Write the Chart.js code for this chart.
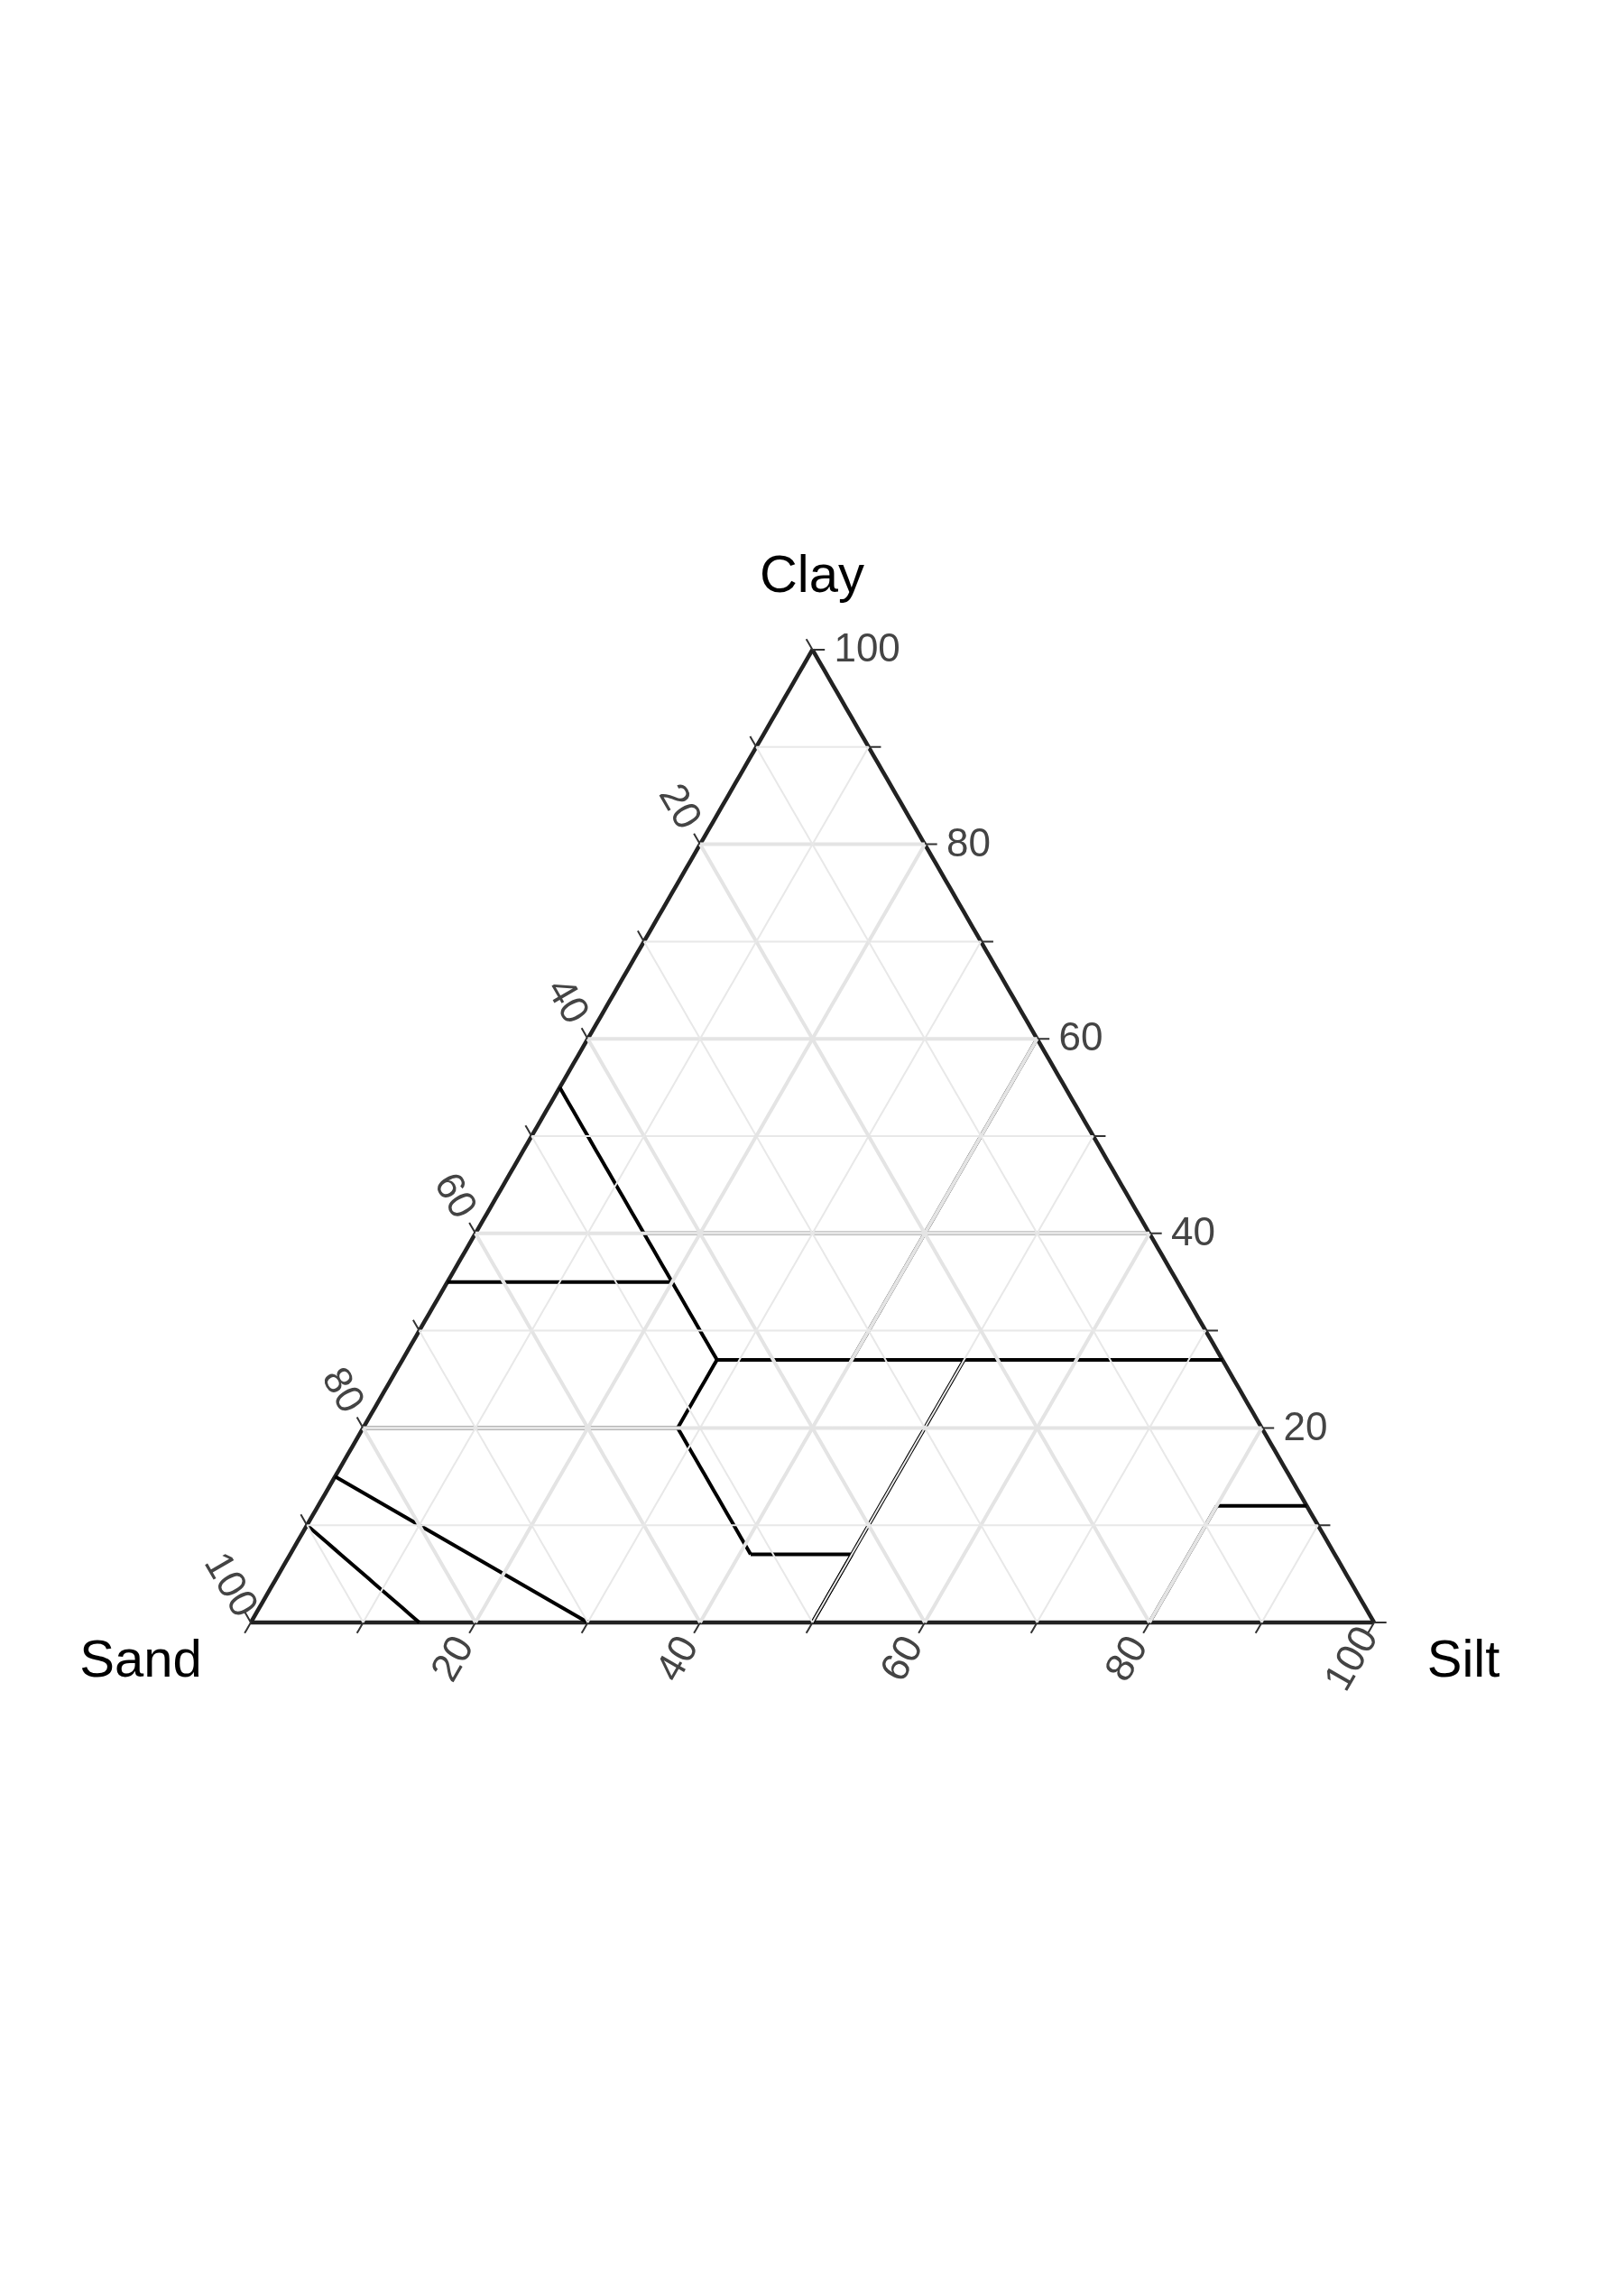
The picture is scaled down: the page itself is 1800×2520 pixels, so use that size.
<!DOCTYPE html>
<html>
<head>
<meta charset="utf-8">
<script src="https://cdn.jsdelivr.net/npm/chart.js@4.4.1/dist/chart.umd.min.js"></script>
<style>
  html, body { margin: 0; padding: 0; background: #fff; }
  canvas { display: block; }
</style>
</head>
<body>
<canvas id="tern" width="1800" height="2520"></canvas>
<script>
// === Data (sand, silt, clay in %) ===
const axisTitles = ['Sand', 'Silt', 'Clay'];
const tickLabels = [20, 40, 60, 80, 100];
const gridSteps = [10, 20, 30, 40, 50, 60, 70, 80, 90];

// USDA texture class boundaries, each segment as [sand, silt, clay] pairs
const boundaries = [
  [[45, 0, 55], [45, 15, 40]],   // clay / sandy clay
  [[45, 15, 40], [45, 28, 27]],  // sand 45 down to clay 27
  [[45, 15, 40], [0, 60, 40]],   // clay = 40
  [[65, 0, 35], [45, 20, 35]],   // sandy clay top
  [[0, 40, 60], [20, 40, 40]],   // silty clay / clay
  [[20, 40, 40], [33, 40, 27]],  // silty clay loam / clay loam
  [[45, 28, 27], [0, 73, 27]],   // clay = 27
  [[80, 0, 20], [52, 28, 20]],   // clay = 20
  [[52, 28, 20], [45, 28, 27]],  // silt = 28
  [[52, 28, 20], [52, 41, 7]],   // sand = 52
  [[52, 41, 7], [43, 50, 7]],    // clay = 7
  [[43, 50, 7], [50, 50, 0]],    // silt = 50 lower part
  [[23, 50, 27], [50, 50, 0]],   // silt loam / loam
  [[8, 80, 12], [0, 88, 12]],    // silt top
  [[8, 80, 12], [20, 80, 0]],    // silt left
  [[85, 0, 15], [70, 30, 0]],    // loamy sand
  [[90, 0, 10], [85, 15, 0]]     // sand
];

// === Geometry ===
const LX = 278, RX = 1523, BY = 1798, TY = 720;
const W = RX - LX, H = BY - TY;
function toXY(p) {
  const [sand, silt, clay] = p;
  return { x: LX + (silt + clay / 2) / 100 * W, y: BY - clay / 100 * H };
}

const datasets = [];
function seg(a, b, color, width) {
  datasets.push({
    data: [toXY(a), toXY(b)], showLine: true, borderColor: color,
    borderWidth: width, pointRadius: 0, fill: false, tension: 0,
    borderDash: [10, 0], borderCapStyle: 'butt'
  });
}

// grid lines
gridSteps.forEach(v => {
  const c = v % 20 === 0 ? '#e4e4e4' : '#e8e8e8';
  const w = v % 20 === 0 ? 4 : 2;
  seg([100 - v, 0, v], [0, 100 - v, v], c, w);   // clay const
  seg([v, 100 - v, 0], [v, 0, 100 - v], c, w);   // sand const
  seg([100 - v, v, 0], [0, v, 100 - v], c, w);   // silt const
});

// ticks
for (let v = 0; v <= 100; v += 10) {
  seg([v, 0, 100 - v], [v, -1.1, 101.1 - v], '#333', 2);      // sand, left
  seg([100 - v, v, 0], [101.1 - v, v, -1.1], '#333', 2);      // silt, bottom
  seg([0, 100 - v, v], [-1.1, 101.1 - v, v], '#333', 2);      // clay, right
}

boundaries.forEach(b => seg(b[0], b[1], '#000', 4));

// outline
seg([100, 0, 0], [0, 100, 0], '#222', 4.5);
seg([0, 100, 0], [0, 0, 100], '#222', 4.5);
seg([0, 0, 100], [100, 0, 0], '#222', 4.5);

// === Labels ===
const labelPlugin = {
  id: 'ternLabels',
  afterDatasetsDraw(chart) {
    const ctx = chart.ctx;
    ctx.save();
    ctx.fillStyle = '#444';
    ctx.font = '44px "Liberation Sans", Arial, sans-serif';
    ctx.textBaseline = 'middle';
    tickLabels.forEach(v => {
      // sand (left)
      let p = toXY([v, -3.8, 103.8 - v]);
      ctx.save(); ctx.translate(p.x, p.y); ctx.rotate(Math.PI / 3);
      ctx.textAlign = 'center'; ctx.fillText(String(v), 0, 0); ctx.restore();
      // silt (bottom)
      p = toXY([103.8 - v, v, -3.8]);
      ctx.save(); ctx.translate(p.x, p.y); ctx.rotate(-Math.PI / 3);
      ctx.textAlign = 'center'; ctx.fillText(String(v), 0, 0); ctx.restore();
      // clay (right)
      p = toXY([-1.6, 101.6 - v, v]);
      ctx.textAlign = 'left'; ctx.fillText(String(v), p.x + 4, p.y + 1);
    });
    ctx.fillStyle = '#000';
    ctx.font = '58px "Liberation Sans", Arial, sans-serif';
    ctx.textAlign = 'center';
    ctx.fillText(axisTitles[2], 900, 640);
    ctx.fillText(axisTitles[0], 156, 1842);
    ctx.fillText(axisTitles[1], 1622, 1842);
    ctx.restore();
  }
};

new Chart(document.getElementById('tern'), {
  type: 'scatter',
  data: { datasets },
  options: {
    responsive: false,
    animation: false,
    layout: { padding: 0 },
    plugins: { legend: { display: false }, tooltip: { enabled: false } },
    scales: {
      x: { type: 'linear', min: 0, max: 1800, display: false },
      y: { type: 'linear', min: 0, max: 2520, reverse: true, display: false }
    }
  },
  plugins: [labelPlugin]
});
</script>
</body>
</html>
